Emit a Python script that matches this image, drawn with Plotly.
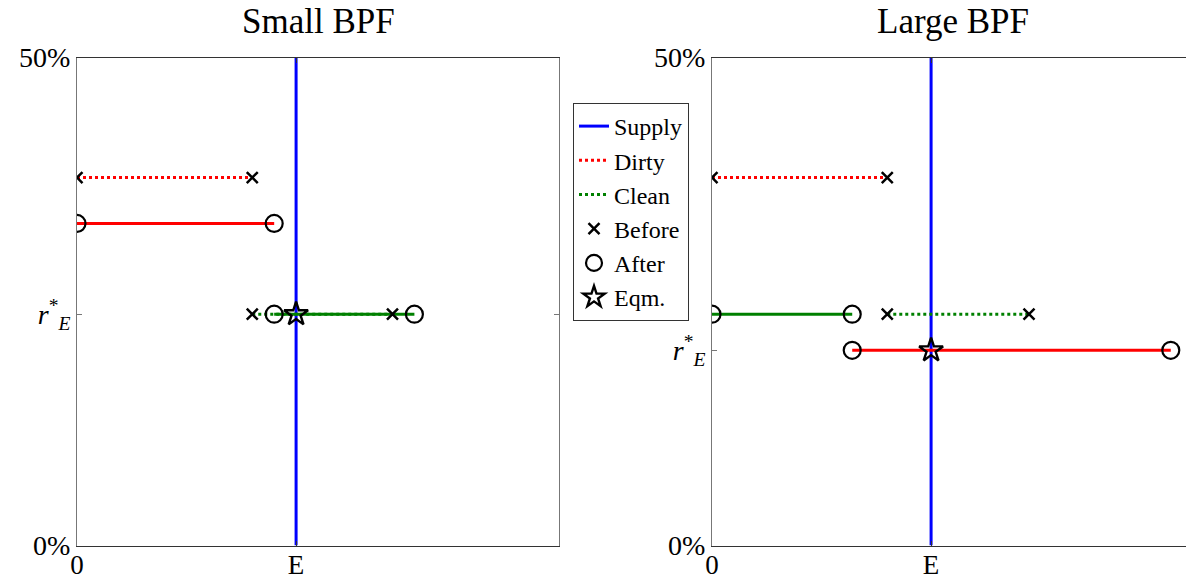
import plotly.graph_objects as go

# ---------------- data ----------------
E = 1.0
x_ticks = [0, E]
x_ticktext = ["0", "E"]
y_max = 50

# Small BPF panel
r_star_small = 23.7
dirty_before_small_x = [0, 0.80]
dirty_before_small_y = [37.7, 37.7]
dirty_after_small_x = [0, 0.90]
dirty_after_small_y = [33.0, 33.0]
clean_before_small_x = [0.80, 1.44]
clean_before_small_y = [23.7, 23.7]
clean_after_small_x = [0.90, 1.54]
clean_after_small_y = [23.7, 23.7]

# Large BPF panel
r_star_large = 20.0
dirty_before_large_x = [0, 0.80]
dirty_before_large_y = [37.7, 37.7]
dirty_after_large_x = [0.64, 2.094]
dirty_after_large_y = [20.0, 20.0]
clean_before_large_x = [0.80, 1.447]
clean_before_large_y = [23.7, 23.7]
clean_after_large_x = [0, 0.64]
clean_after_large_y = [23.7, 23.7]

titles = ["Small BPF", "Large BPF"]

# ---------------- styling ----------------
FONT = "Liberation Serif, DejaVu Serif, serif"
BLUE, RED, GREEN = "#0000ff", "#ff0000", "#008000"
LW = 3

fig = go.Figure()


def add_panel(xa, ya, r_star, db, da, cb, ca, legend):
    # supply
    fig.add_trace(go.Scatter(x=[E, E], y=[0, y_max], mode="lines", name="Supply",
                             line=dict(color=BLUE, width=LW), xaxis=xa, yaxis=ya,
                             showlegend=legend, legendrank=1))
    # dirty
    fig.add_trace(go.Scatter(x=db[0], y=db[1], mode="lines", name="Dirty",
                             line=dict(color=RED, width=LW, dash="dot"), xaxis=xa, yaxis=ya,
                             showlegend=legend, legendrank=2))
    fig.add_trace(go.Scatter(x=da[0], y=da[1], mode="lines", name="Dirty after",
                             line=dict(color=RED, width=LW), xaxis=xa, yaxis=ya,
                             showlegend=False))
    # clean
    fig.add_trace(go.Scatter(x=cb[0], y=cb[1], mode="lines", name="Clean",
                             line=dict(color=GREEN, width=LW, dash="dot"), xaxis=xa, yaxis=ya,
                             showlegend=legend, legendrank=3))
    fig.add_trace(go.Scatter(x=ca[0], y=ca[1], mode="lines", name="Clean after",
                             line=dict(color=GREEN, width=LW), xaxis=xa, yaxis=ya,
                             showlegend=False))
    # markers
    fig.add_trace(go.Scatter(x=list(db[0]) + list(cb[0]), y=list(db[1]) + list(cb[1]),
                             mode="markers", name="Before",
                             marker=dict(symbol="x-thin-open", size=11, color="black",
                                         line=dict(width=2.5, color="black")),
                             xaxis=xa, yaxis=ya, showlegend=legend, legendrank=4))
    fig.add_trace(go.Scatter(x=list(da[0]) + list(ca[0]), y=list(da[1]) + list(ca[1]),
                             mode="markers", name="After",
                             marker=dict(symbol="circle-open", size=17, color="black",
                                         line=dict(width=2.2, color="black")),
                             xaxis=xa, yaxis=ya, showlegend=legend, legendrank=5))
    fig.add_trace(go.Scatter(x=[E], y=[r_star], mode="markers", name="Eqm.",
                             marker=dict(symbol="star-open", size=18, color="black",
                                         line=dict(width=2.4, color="black")),
                             xaxis=xa, yaxis=ya, showlegend=legend, legendrank=6))


add_panel("x", "y", r_star_small,
          (dirty_before_small_x, dirty_before_small_y),
          (dirty_after_small_x, dirty_after_small_y),
          (clean_before_small_x, clean_before_small_y),
          (clean_after_small_x, clean_after_small_y), True)
add_panel("x2", "y2", r_star_large,
          (dirty_before_large_x, dirty_before_large_y),
          (dirty_after_large_x, dirty_after_large_y),
          (clean_before_large_x, clean_before_large_y),
          (clean_after_large_x, clean_after_large_y), False)

W, H = 1186, 582
L1, R1 = 77, 559
L2, R2 = 712, 1186
TOP, BOT = 57.5, 545.5
px_per_unit = (R1 - L1) / 2.2
x2_max = (R2 - L2) / px_per_unit

ydom = [(H - BOT) / H, (H - TOP) / H]
RSTAR = "<i>r</i><sup>*</sup><sub><i>E</i></sub>"

xcommon = dict(tickvals=x_ticks, ticktext=x_ticktext, ticks="inside", ticklen=5,
               showline=True, linecolor="#333333", linewidth=1, tickcolor="#333333",
               showgrid=False, zeroline=False, tickfont=dict(family=FONT, size=27, color="black"),
               fixedrange=True, automargin=False, ticklabelstandoff=-5)
ycommon = dict(ticks="inside", ticklen=5, showline=True, linecolor="#777777", linewidth=1,
               tickcolor="#777777", showgrid=False, zeroline=False, range=[0, y_max],
               tickfont=dict(family=FONT, size=28, color="black"), fixedrange=True,
               automargin=False)

fig.update_layout(
    width=W, height=H,
    margin=dict(l=0, r=0, t=0, b=0, autoexpand=False),
    paper_bgcolor="white", plot_bgcolor="white",
    xaxis=dict(domain=[L1 / W, R1 / W], range=[0, 2.2], mirror="ticks", anchor="y", **xcommon),
    yaxis=dict(domain=ydom, anchor="x", mirror="ticks",
               tickvals=[0, r_star_small, y_max], ticktext=["0%", RSTAR, "50%"], **ycommon),
    xaxis2=dict(domain=[L2 / W, R2 / W], range=[0, x2_max], mirror="ticks", anchor="y2", **xcommon),
    yaxis2=dict(domain=ydom, anchor="x2", mirror=False,
                tickvals=[0, r_star_large, y_max], ticktext=["0%", RSTAR, "50%"], **ycommon),
    legend=dict(x=573 / W, y=(H - 103) / H, xanchor="left", yanchor="top",
                bordercolor="#333333", borderwidth=1, bgcolor="white",
                font=dict(family=FONT, size=24, color="black"),
                traceorder="normal", itemwidth=30, tracegroupgap=0),
    annotations=[
        dict(text=titles[0], x=(L1 + R1) / 2 / W, y=(H - 22) / H, xref="paper", yref="paper",
             showarrow=False, font=dict(family=FONT, size=35, color="black"),
             xanchor="center", yanchor="middle"),
        dict(text=titles[1], x=(L2 + L2 + (R1 - L1)) / 2 / W, y=(H - 22) / H, xref="paper",
             yref="paper", showarrow=False, font=dict(family=FONT, size=35, color="black"),
             xanchor="center", yanchor="middle"),
    ],
    showlegend=True,
)

fig.write_html("out.html", config={"displayModeBar": False})
